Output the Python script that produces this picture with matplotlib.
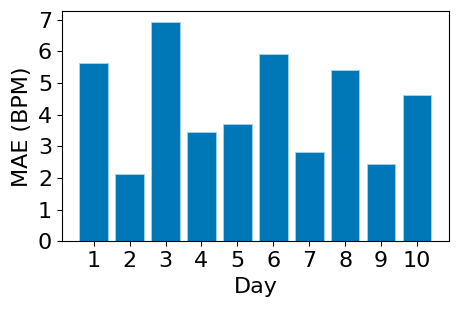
import matplotlib
matplotlib.use('Agg')
import matplotlib.pyplot as plt

days = [1, 2, 3, 4, 5, 6, 7, 8, 9, 10]
mae = [5.63, 2.11, 6.92, 3.44, 3.71, 5.92, 2.83, 5.41, 2.43, 4.62]
yticks = [0, 1, 2, 3, 4, 5, 6, 7]

fig = plt.figure(figsize=(4.58, 3.12), dpi=100)
ax = fig.add_axes([0.135, 0.2266, 0.845, 0.7374])
ax.bar(days, mae, width=0.8, color='#0077b6', edgecolor='#a8d4f0', linewidth=0.6)
ax.set_xticks(days)
ax.set_yticks(yticks)
ax.set_xlabel('Day', fontsize=16)
ax.set_ylabel('MAE (BPM)', fontsize=16)
ax.tick_params(labelsize=16)
fig.savefig('out.png', dpi=100)
